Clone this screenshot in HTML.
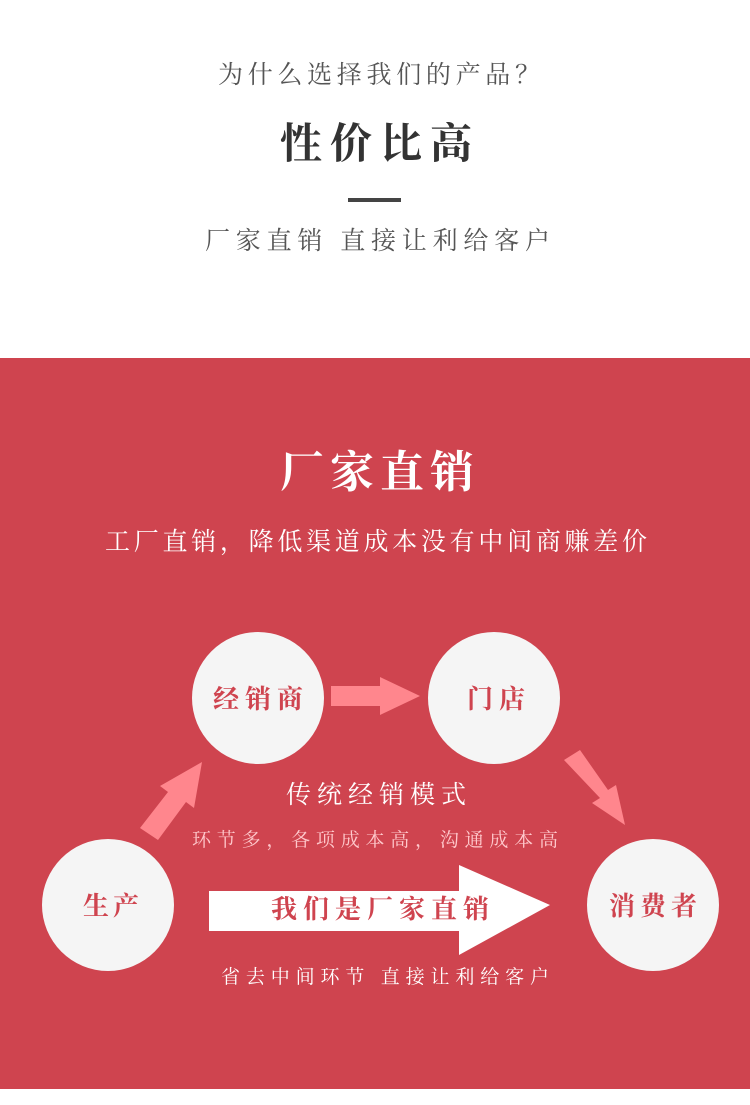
<!DOCTYPE html>
<html><head><meta charset="utf-8"><style>
html,body{margin:0;padding:0;background:#fff;width:750px;height:1105px;overflow:hidden}
svg{display:block}
text{font-family:"Liberation Serif","Noto Serif CJK SC",serif}
</style></head><body>
<svg width="750" height="1105" viewBox="0 0 750 1105" xmlns="http://www.w3.org/2000/svg">
<rect x="0" y="0" width="750" height="1105" fill="#fff"/>
<text x="218" y="83" font-size="25" fill="#555" textLength="322" lengthAdjust="spacing">为什么选择我们的产品？</text>
<text x="280" y="158" font-size="42" font-weight="bold" fill="#333" textLength="192" lengthAdjust="spacing">性价比高</text>
<rect x="348" y="198" width="53" height="4" fill="#444"/>
<text x="205" y="249" font-size="25" fill="#555" textLength="345" lengthAdjust="spacing">厂家直销 直接让利给客户</text>
<rect x="0" y="358" width="750" height="731" fill="#cf444f"/>
<text x="280" y="487" font-size="44" font-weight="bold" fill="#fff" textLength="194" lengthAdjust="spacing">厂家直销</text>
<text x="105" y="550" font-size="25" fill="#fff" textLength="542" lengthAdjust="spacing">工厂直销，降低渠道成本没有中间商赚差价</text>
<g fill="#f5f5f5">
<circle cx="258" cy="698" r="66"/>
<circle cx="494" cy="698" r="66"/>
<circle cx="108" cy="905" r="66"/>
<circle cx="653" cy="905" r="66"/>
</g>
<g fill="#ff868d">
<polygon points="331,686 380,686 380,677 420,696 380,715 380,706 331,706"/>
<polygon points="140,828 168,792 160,786 202,762 194,808 186,802 158,840"/>
<polygon points="564,760 580,750 608,790 616,785 625,825 592,803 600,798"/>
</g>
<polygon points="209,891 459,891 459,865 550,905 459,955 459,931 209,931" fill="#fff"/>
<g font-weight="bold" fill="#cf444f" font-size="26">
<text x="213" y="708" textLength="90" lengthAdjust="spacing">经销商</text>
<text x="467" y="708" textLength="58" lengthAdjust="spacing">门店</text>
<text x="83" y="915" textLength="56" lengthAdjust="spacing">生产</text>
<text x="609" y="915" textLength="88" lengthAdjust="spacing">消费者</text>
<text x="271" y="918" textLength="218" lengthAdjust="spacing">我们是厂家直销</text>
</g>
<text x="286" y="803" font-size="25" fill="#fff" textLength="180" lengthAdjust="spacing">传统经销模式</text>
<text x="192" y="846" font-size="19" fill="#ffc9cc" textLength="366" lengthAdjust="spacing">环节多，各项成本高，沟通成本高</text>
<text x="221" y="983" font-size="19" fill="#fff" textLength="328" lengthAdjust="spacing">省去中间环节 直接让利给客户</text>
</svg>
</body></html>
